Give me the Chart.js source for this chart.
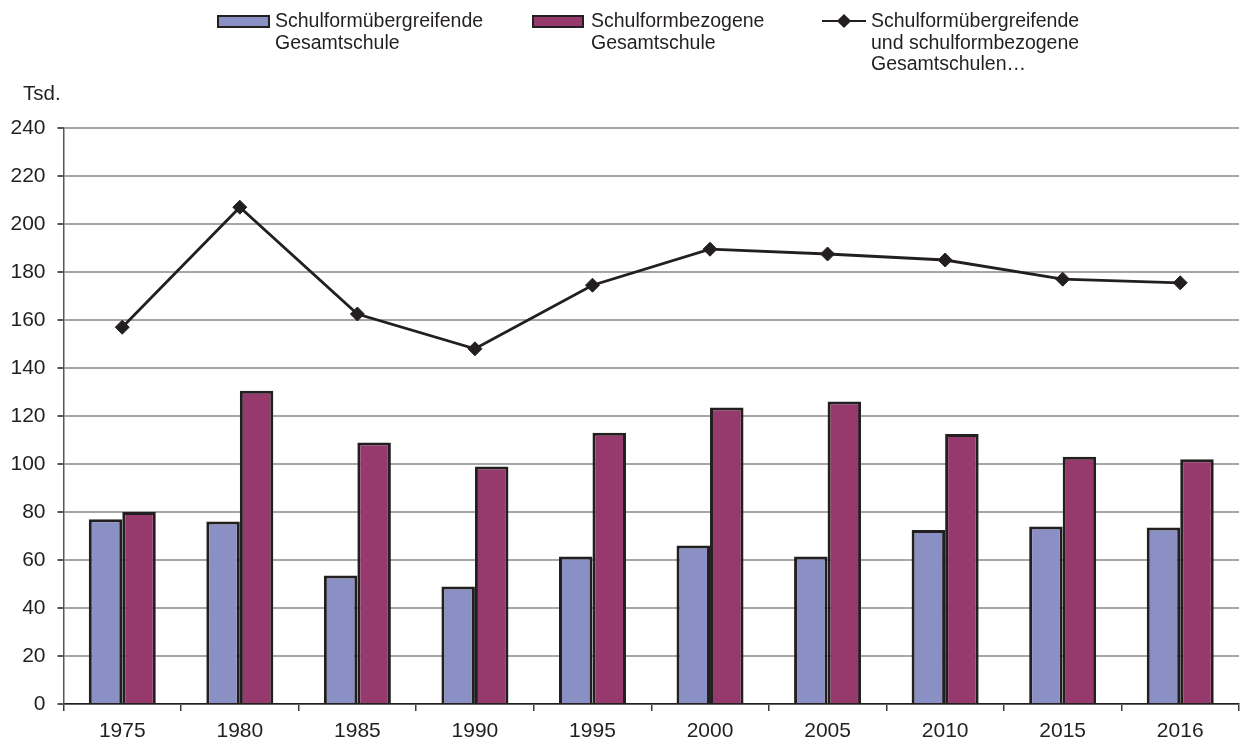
<!DOCTYPE html>
<html>
<head>
<meta charset="utf-8">
<script src="https://cdn.jsdelivr.net/npm/chart.js@4"></script>
<style>
  html, body { margin: 0; padding: 0; background: #fff; overflow: hidden; }
  #wrap { position: relative; width: 1241px; height: 742px; overflow: hidden; font-family: "Liberation Sans", Arial, sans-serif; color: #231F20; }
  #c { position: absolute; left: 0; top: 0; }
  .lg { position: absolute; font-size: 19.5px; line-height: 21.5px; white-space: nowrap; }
  .sw { position: absolute; box-sizing: border-box; border: 2.5px solid #231F20; }
  .tsd { position: absolute; left: 23px; top: 81px; font-size: 20.5px; }
</style>
</head>
<body>
<div id="wrap">
  <canvas id="c" width="1247" height="742"></canvas>
  <div class="sw" style="left:217px;top:15px;width:53px;height:13px;background:#8A8FC4;"></div>
  <div class="lg" style="left:275px;top:10px;">Schulformübergreifende<br>Gesamtschule</div>
  <div class="sw" style="left:532px;top:15px;width:52px;height:13px;background:#96396C;"></div>
  <div class="lg" style="left:591px;top:10px;">Schulformbezogene<br>Gesamtschule</div>
  <div style="position:absolute;left:822px;top:19.5px;width:44px;height:2.5px;background:#231F20;"></div>
  <div style="position:absolute;left:839px;top:15.5px;width:10px;height:10px;background:#231F20;transform:rotate(45deg);"></div>
  <div class="lg" style="left:871px;top:10px;">Schulformübergreifende<br>und schulformbezogene<br>Gesamtschulen…</div>
  <div class="tsd">Tsd.</div>
</div>
<script>
const categories = ["1975","1980","1985","1990","1995","2000","2005","2010","2015","2016"];
const uebergreifend = [77, 76, 53.5, 49, 61.5, 66, 61.5, 72.5, 74, 73.5];
const bezogen = [80, 130.5, 109, 99, 113, 123.5, 126, 112.5, 103, 102];
const gesamt = [157, 207, 162.5, 148, 174.5, 189.5, 187.5, 185, 177, 175.5];
const yTicks = [0, 20, 40, 60, 80, 100, 120, 140, 160, 180, 200, 220, 240];

const font = { family: "'Liberation Sans', Arial, sans-serif", size: 21 };

new Chart(document.getElementById('c'), {
  data: {
    labels: categories,
    datasets: [
      {
        type: 'line', label: 'Schulformübergreifende und schulformbezogene Gesamtschulen…',
        data: gesamt, order: 0,
        borderColor: '#231F20', borderWidth: 2.8, tension: 0,
        pointStyle: 'rectRot', pointRadius: 7, pointBackgroundColor: '#231F20',
        pointBorderColor: '#231F20', pointBorderWidth: 1
      },
      {
        type: 'bar', label: 'Schulformübergreifende Gesamtschule',
        data: uebergreifend, order: 1,
        backgroundColor: '#8A8FC4', borderColor: '#231F20', borderWidth: 3,
        barPercentage: 1, categoryPercentage: 0.57
      },
      {
        type: 'bar', label: 'Schulformbezogene Gesamtschule',
        data: bezogen, order: 1,
        backgroundColor: '#96396C', borderColor: '#231F20', borderWidth: 3,
        barPercentage: 1, categoryPercentage: 0.57
      }
    ]
  },
  options: {
    responsive: false,
    animation: false,
    layout: { padding: { top: 128, left: 0, right: 0, bottom: 0 } },
    plugins: { legend: { display: false }, tooltip: { enabled: false } },
    scales: {
      x: {
        offset: true,
        grid: { offset: true, drawOnChartArea: false, drawTicks: true, tickLength: 7, tickColor: '#3a3a3a', lineWidth: 1.5 },
        border: { color: '#231F20', width: 1.5 },
        ticks: { color: '#231F20', font: font, padding: 8, maxRotation: 0 },
        afterFit: s => { s.height = 38; }
      },
      y: {
        min: 0, max: 240,
        afterBuildTicks: s => { s.ticks = yTicks.map(v => ({ value: v })); },
        grid: { color: '#A6A6A6', lineWidth: 2, tickLength: 6, tickColor: '#555555' },
        border: { color: '#555555', width: 1.5 },
        ticks: { color: '#231F20', font: font, padding: 12 },
        afterFit: s => { s.width = 63.5; }
      }
    }
  }
});
</script>
</body>
</html>
